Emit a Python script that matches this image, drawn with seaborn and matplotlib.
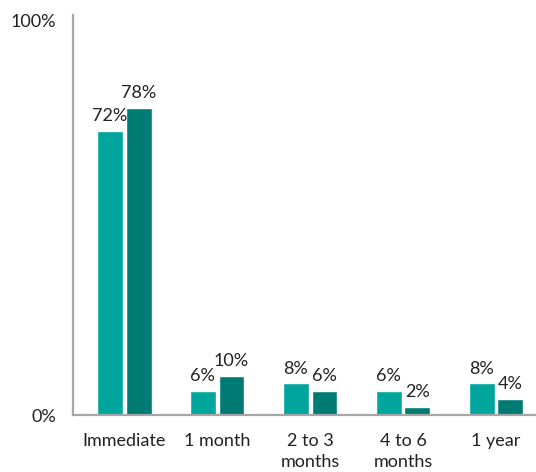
import matplotlib
matplotlib.use("Agg")
import matplotlib.pyplot as plt
import pandas as pd
import seaborn as sns

# Data
categories = ['Immediate', '1 month', '2 to 3\nmonths', '4 to 6\nmonths', '1 year']
series_names = ['Group 1', 'Group 2']
values_1 = [72, 6, 8, 6, 8]
values_2 = [78, 10, 6, 2, 4]
colors = ['#00A69C', '#007B73']

df = pd.DataFrame({
    'category': categories * 2,
    'series': [series_names[0]] * len(categories) + [series_names[1]] * len(categories),
    'value': values_1 + values_2,
})

sns.set_style('white')
plt.rcParams['font.family'] = ['Lato', 'DejaVu Sans']

fig = plt.figure(figsize=(5.36, 4.72), dpi=100)
ax = fig.add_axes([73 / 536, 57 / 472, 1 - 73 / 536, 400 / 472])

sns.barplot(data=df, x='category', y='value', hue='series', palette=colors,
            width=0.62, gap=0.1, legend=False, ax=ax, saturation=1)

# value labels
for cont in ax.containers:
    ax.bar_label(cont, labels=[f'{v:.0f}%' for v in cont.datavalues],
                 padding=5, fontsize=13, color='#222222')

ax.set_ylim(0, 101.5)
ax.set_xlim(-0.55, 4.43)
ax.set_yticks([0, 100])
ax.set_yticklabels(['0%', '100%'])
ax.set_xlabel('')
ax.set_ylabel('')
ax.tick_params(axis='both', length=0, labelsize=13, colors='#222222')
ax.tick_params(axis='y', pad=12)
ax.tick_params(axis='x', pad=13)
for lbl in ax.get_xticklabels():
    lbl.set_linespacing(1.4)

for side in ['top', 'right']:
    ax.spines[side].set_visible(False)
for side in ['left', 'bottom']:
    ax.spines[side].set_color('#A6A6A6')
    ax.spines[side].set_linewidth(1.6)

fig.savefig('out.png', dpi=100)
